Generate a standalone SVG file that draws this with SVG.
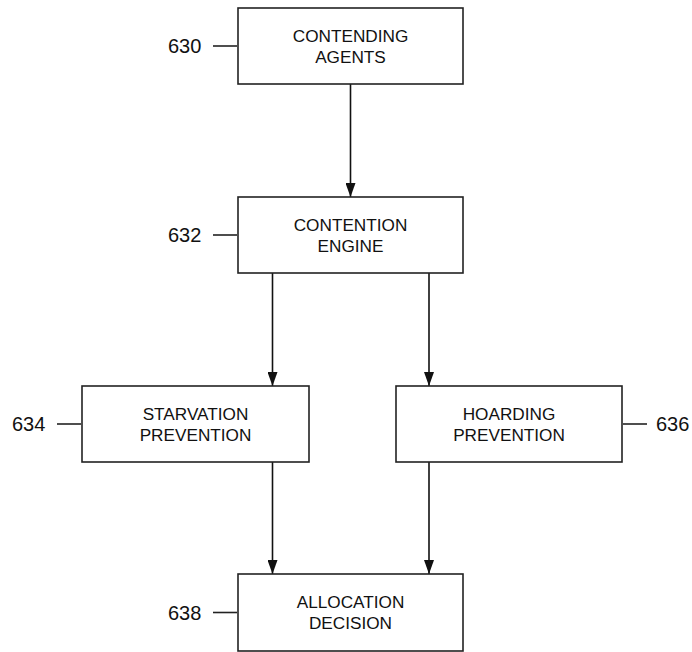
<svg xmlns="http://www.w3.org/2000/svg" width="692" height="652" viewBox="0 0 692 652">
<style>
.box{fill:#fff;stroke:#222;stroke-width:1.6}
.t{font-family:"Liberation Sans",Arial,sans-serif;font-size:17.2px;fill:#111;text-anchor:middle}
.lbl{font-family:"Liberation Sans",Arial,sans-serif;font-size:20px;fill:#111}
.lead{stroke:#222;stroke-width:1.6}
.conn{stroke:#111;stroke-width:1.6;fill:none;marker-end:url(#ah)}
</style>
<defs>
<marker id="ah" viewBox="0 0 14 10" refX="14" refY="5" markerWidth="14" markerHeight="10" markerUnits="userSpaceOnUse" orient="auto">
<path d="M0,0 L14,5 L0,10 z" fill="#111"/>
</marker>
</defs>
<rect width="692" height="652" fill="#fff"/>
<g id="connectors">
<line class="conn" x1="350.5" y1="84" x2="350.5" y2="197"/>
<line class="conn" x1="272.5" y1="273" x2="272.5" y2="386"/>
<line class="conn" x1="429" y1="273" x2="429" y2="386"/>
<line class="conn" x1="272.5" y1="462" x2="272.5" y2="574"/>
<line class="conn" x1="429" y1="462" x2="429" y2="574"/>
</g>
<g id="node630">
<rect class="box" x="238" y="8" width="225" height="76"/>
<text class="t" x="350.5" y="41.7">CONTENDING</text>
<text class="t" x="350.5" y="62.7">AGENTS</text>
<text class="lbl" x="168" y="53.3">630</text>
<line class="lead" x1="213" y1="46" x2="237" y2="46"/>
</g>
<g id="node632">
<rect class="box" x="238" y="197" width="225" height="76"/>
<text class="t" x="350.5" y="230.7">CONTENTION</text>
<text class="t" x="350.5" y="251.7">ENGINE</text>
<text class="lbl" x="168" y="242.3">632</text>
<line class="lead" x1="213" y1="235" x2="237" y2="235"/>
</g>
<g id="node634">
<rect class="box" x="82" y="386" width="227" height="76"/>
<text class="t" x="195.5" y="419.7">STARVATION</text>
<text class="t" x="195.5" y="440.7">PREVENTION</text>
<text class="lbl" x="12" y="431.3">634</text>
<line class="lead" x1="57" y1="424" x2="81" y2="424"/>
</g>
<g id="node636">
<rect class="box" x="396" y="386" width="226" height="76"/>
<text class="t" x="509" y="419.7">HOARDING</text>
<text class="t" x="509" y="440.7">PREVENTION</text>
<text class="lbl" x="656" y="431.3">636</text>
<line class="lead" x1="623" y1="424" x2="647" y2="424"/>
</g>
<g id="node638">
<rect class="box" x="238" y="574" width="225" height="77"/>
<text class="t" x="350.5" y="607.7">ALLOCATION</text>
<text class="t" x="350.5" y="628.7">DECISION</text>
<text class="lbl" x="168" y="619.8">638</text>
<line class="lead" x1="213" y1="612.5" x2="237" y2="612.5"/>
</g>
</svg>
